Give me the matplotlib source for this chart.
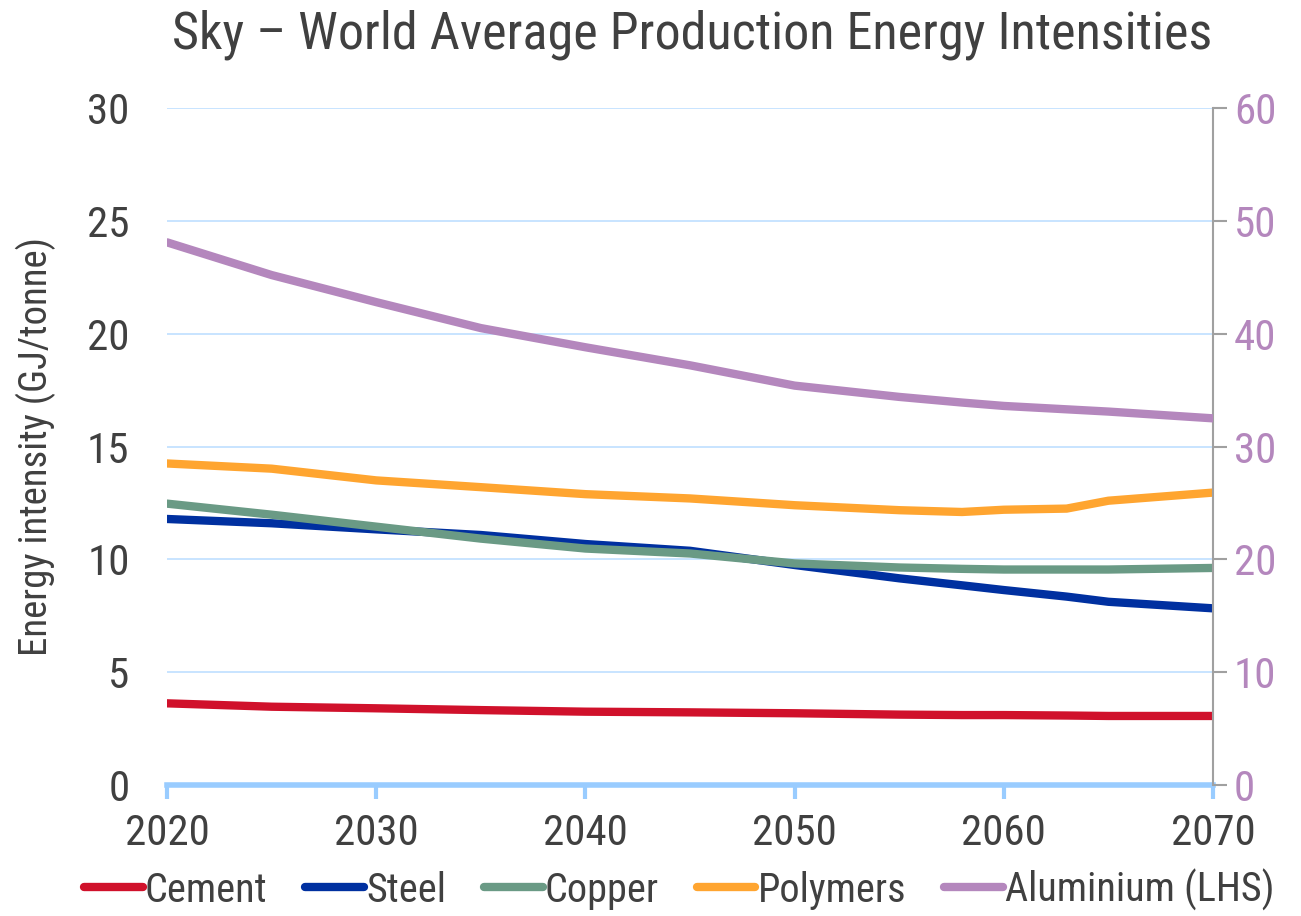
import matplotlib
matplotlib.use("Agg")
import matplotlib.pyplot as plt
from matplotlib import font_manager

# prefer a narrow face if one is installed
fonts = font_manager.fontManager.ttflist
names = {f.name for f in fonts}
STRETCH = "normal"
FONT = "DejaVu Sans"
for cand in ["Liberation Sans Narrow", "Roboto Condensed", "Open Sans Condensed"]:
    if cand in names:
        FONT = cand
        break
else:
    if any(f.name == "DejaVu Sans" and f.stretch == "condensed" for f in fonts):
        STRETCH = "condensed"
plt.rcParams["font.family"] = [FONT, "DejaVu Sans"]
plt.rcParams["font.stretch"] = STRETCH

TEXT = "#404040"
GRID = "#bfdfff"
AXIS_BLUE = "#99ccff"

years = [2020, 2025, 2030, 2035, 2040, 2045, 2050, 2055, 2058, 2060, 2063, 2065, 2070]

cement = [3.62, 3.47, 3.40, 3.32, 3.25, 3.22, 3.18, 3.12, 3.10, 3.10, 3.08, 3.06, 3.06]
steel = [11.79, 11.60, 11.33, 11.08, 10.68, 10.38, 9.75, 9.16, 8.85, 8.64, 8.35, 8.12, 7.83]
copper = [12.47, 11.98, 11.45, 10.92, 10.48, 10.26, 9.82, 9.64, 9.58, 9.55, 9.55, 9.55, 9.62]
polymers = [14.25, 14.02, 13.50, 13.20, 12.89, 12.70, 12.40, 12.18, 12.10, 12.20, 12.25, 12.60, 12.96]
# aluminium is read against the right-hand axis
aluminium = [48.1, 45.2, 42.8, 40.5, 38.8, 37.2, 35.4, 34.4, 33.9, 33.6, 33.3, 33.1, 32.5]

series = [
    ("Cement", cement, "#d0112b"),
    ("Steel", steel, "#0030a0"),
    ("Copper", copper, "#6a9a85"),
    ("Polymers", polymers, "#ffa530"),
]
alu_color = "#b487bd"

fig = plt.figure(figsize=(13.01, 9.16), dpi=100)
ax = fig.add_axes([0.1284, 0.143, 0.804, 0.739])
ax2 = ax.twinx()

handles = []
for name, vals, col in series:
    h, = ax.plot(years, vals, color=col, lw=6, solid_capstyle="round",
                 solid_joinstyle="round", label=name, zorder=3)
    handles.append(h)
h, = ax2.plot(years, aluminium, color=alu_color, lw=6, solid_capstyle="round",
              solid_joinstyle="round", label="Aluminium (LHS)", zorder=3)
handles.append(h)

ax.set_xlim(2020, 2070)
ax.set_ylim(0, 30)
ax2.set_ylim(0, 60)
ax.set_xticks(range(2020, 2071, 10))
ax.set_yticks(range(0, 31, 5))
ax2.set_yticks(range(0, 61, 10))

ax.grid(axis="y", color=GRID, lw=1.2)
ax.set_axisbelow(True)

for sp in ["top", "left", "right"]:
    ax.spines[sp].set_visible(False)
for sp in ["top", "left", "bottom"]:
    ax2.spines[sp].set_visible(False)
ax.spines["bottom"].set_color(AXIS_BLUE)
ax.spines["bottom"].set_linewidth(4)
ax.spines["bottom"].set_zorder(4)
ax2.spines["right"].set_color("#a0a0a0")
ax2.spines["right"].set_linewidth(1.5)

ax.tick_params(axis="x", colors=AXIS_BLUE, width=3, length=10, direction="out",
               labelcolor=TEXT, labelsize=31, pad=10)
ax.tick_params(axis="y", length=0, labelcolor=TEXT, labelsize=31, pad=27)
ax2.tick_params(axis="y", colors="#a0a0a0", width=1.5, length=10,
                labelcolor=alu_color, labelsize=31, pad=5)

ax.set_ylabel("Energy intensity (GJ/tonne)", color=TEXT, fontsize=28)
ax.yaxis.set_label_coords(-0.106, 0.5)
fig.text(0.532, 0.962, "Sky \u2013 World Average Production Energy Intensities",
         color=TEXT, fontsize=37.5, ha="center", va="center")

leg = fig.legend(handles=handles, loc="lower center", ncol=5, frameon=False,
                 fontsize=29, handlelength=1.45, handletextpad=0.05,
                 columnspacing=0.95, bbox_to_anchor=(0.522, -0.034))
for t in leg.get_texts():
    t.set_color(TEXT)

fig.savefig("out.png", dpi=100)
